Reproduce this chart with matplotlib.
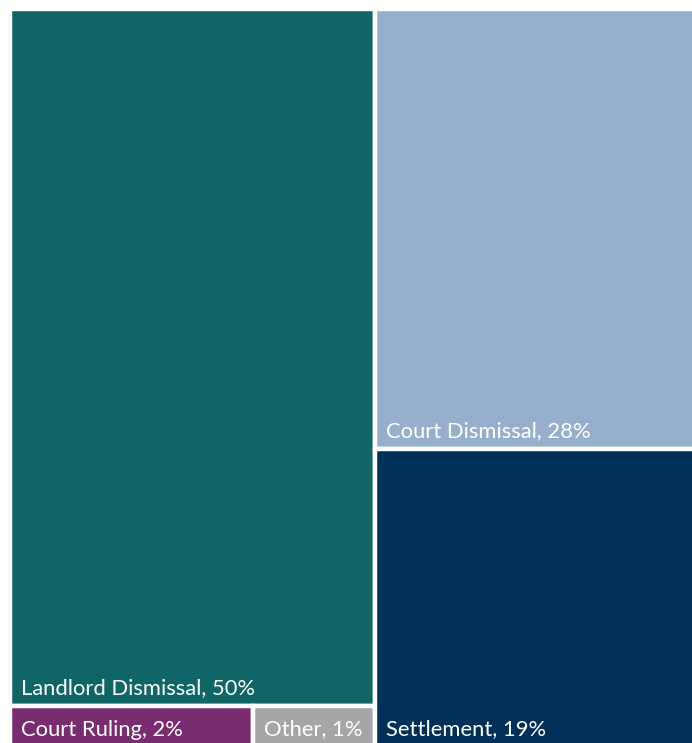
import matplotlib
matplotlib.use("Agg")
import matplotlib.pyplot as plt
from matplotlib.patches import Rectangle

# case outcomes (share of filings, %)
labels = ["Landlord Dismissal", "Court Ruling", "Other", "Court Dismissal", "Settlement"]
values = [50, 2, 1, 28, 19]
colors = ["#106566", "#7A2C70", "#A6A6A6", "#95AFCC", "#003057"]

plt.rcParams["font.family"] = ["Lato", "DejaVu Sans"]

W, H = 692, 743
fig = plt.figure(figsize=(W / 100, H / 100), dpi=100)
# plotting area in pixels; runs a little past the right/bottom edge
ax = fig.add_axes([9.5 / W, -5 / H, 688.7 / W, (743 + 5 - 9) / H])
ax.set_xlim(0, 1)
ax.set_ylim(1, 0)
ax.axis("off")

total = sum(values)
left_vals = values[:3]
right_vals = values[3:]
left_w = sum(left_vals) / total

rects = []
# left column: big block on top, small ones side by side underneath
top_h = values[0] / sum(left_vals)
rects.append((0, 0, left_w, top_h))
row_sum = values[1] + values[2]
x = 0
for v in values[1:3]:
    w = left_w * v / row_sum
    rects.append((x, top_h, w, 1 - top_h))
    x += w
# right column stacked vertically
y = 0
for v in right_vals:
    h = v / sum(right_vals)
    rects.append((left_w, y, 1 - left_w, h))
    y += h

for (x0, y0, w, h), lab, val, col in zip(rects, labels, values, colors):
    ax.add_patch(Rectangle((x0, y0), w, h, facecolor=col, edgecolor="white", linewidth=3.2))
    ax.annotate(f"{lab}, {val}%", xy=(x0, y0 + h), xytext=(8, 9),
                textcoords="offset points", color="white", fontsize=15.8,
                ha="left", va="baseline")

fig.savefig("out.png", dpi=100)
